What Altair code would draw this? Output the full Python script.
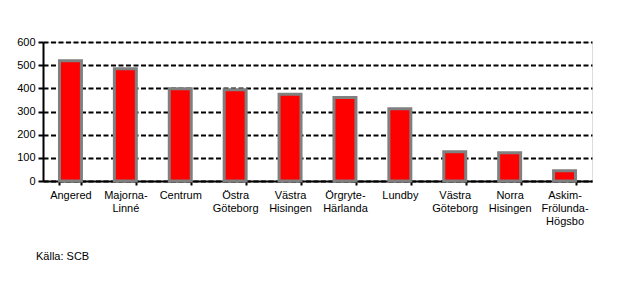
import altair as alt
import pandas as pd

categories = ["Angered", "Majorna-|Linné", "Centrum", "Östra|Göteborg", "Västra|Hisingen",
              "Örgryte-|Härlanda", "Lundby", "Västra|Göteborg ", "Norra|Hisingen", "Askim-|Frölunda-|Högsbo"]
values = [519, 485, 398, 394, 374, 360, 312, 126, 122, 44]
y_ticks = [0, 100, 200, 300, 400, 500, 600]

df = pd.DataFrame({"omrade": categories, "varde": values})

FONT = "Liberation Sans"

bars = alt.Chart(df).mark_bar(
    color="#FF0000", stroke="#808080", strokeWidth=3
).encode(
    x=alt.X("omrade:N", sort=categories, title=None,
            scale=alt.Scale(paddingInner=0.6, paddingOuter=0.3),
            axis=alt.Axis(labelAngle=0, labelExpr="split(datum.label, '|')",
                          labelFont=FONT, labelFontSize=11, labelColor="black",
                          labelLineHeight=13, labelPadding=4,
                          domainColor="black", domainWidth=2,
                          tickBand="extent", tickColor="black", tickWidth=2, tickSize=4,
                          labelBaseline="top")),
    y=alt.Y("varde:Q", title=None,
            scale=alt.Scale(domain=[0, 600], nice=False),
            axis=alt.Axis(values=y_ticks, labelFont=FONT, labelFontSize=11, labelColor="black",
                          domainColor="black", domainWidth=2,
                          tickColor="black", tickWidth=2, tickSize=5, labelPadding=3,
                          grid=True, gridColor="black", gridWidth=2, gridDash=[5, 2.5]))
)

chart = bars.properties(
    width=549, height=139,
    title=alt.TitleParams("Källa: SCB", orient="bottom", anchor="start", frame="group",
                          font=FONT, fontSize=11, fontWeight="normal", color="black",
                          dx=-7, offset=25),
    padding={"left": 43, "top": 42, "right": 49, "bottom": 109},
    autosize=alt.AutoSizeParams(type="none"),
).configure_view(stroke=None).configure(background="white")

chart.save("out.html", embed_options={"renderer": "svg", "actions": False})
